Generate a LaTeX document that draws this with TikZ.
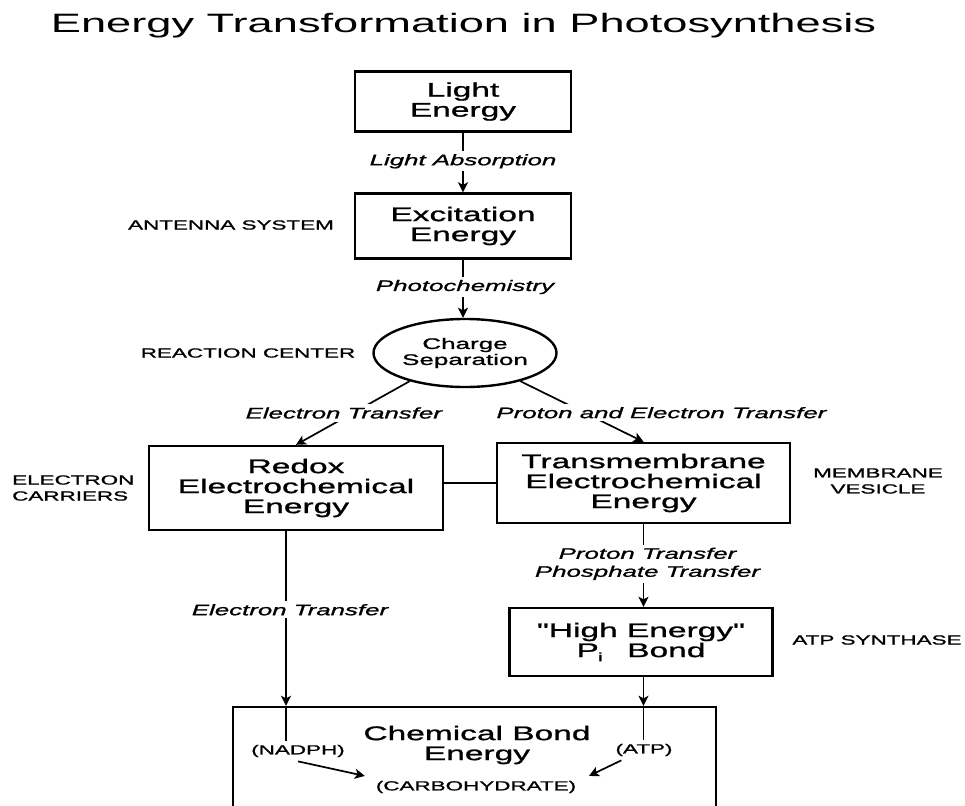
\documentclass[tikz,border=0pt]{standalone}
\usepackage{fontspec}
\usetikzlibrary{arrows.meta,shapes.geometric}
\newfontfamily\helv[FakeStretch=1.7]{Liberation Sans}
\newfontfamily\helvb[FakeStretch=1.7,FakeBold=1.2]{Liberation Sans}

\begin{document}
\begin{tikzpicture}[x=1pt,y=-1pt]

    \tikzset{
      box/.style={
        draw,
        line width=2.4pt,
        align=center,
        inner sep=0pt,
        font=\helvb\fontsize{19.7}{20}\selectfont,
      },
      oval/.style={
        draw,
        ellipse,
        line width=2.4pt,
        align=center,
        inner sep=0pt,
        minimum width=183pt,
        minimum height=68pt,
        font=\helvb\fontsize{15.3}{16}\selectfont,
      },
      lab/.style={
        fill=white,
        inner sep=3pt,
        align=center,
        font=\helvb\itshape\fontsize{15.2}{18}\selectfont,
      },
      side/.style={
        inner sep=3pt,
        font=\helvb\fontsize{13.2}{16}\selectfont,
      },
      conn/.style={line width=1.7pt},
      arr/.style={conn,-{Stealth[length=10pt,width=10pt,inset=2.5pt]}},
    }
    \useasboundingbox (0,0) rectangle (965,805);
    \clip (0,0) rectangle (965,805);
    	\draw [color={black}] (463.5,33) node[anchor = base, inner sep=0pt, font=\helv\fontsize{26.6}{30}\selectfont] (title) {Energy Transformation in Photosynthesis};

	\draw [color={black}] (463,101.5) node[box, minimum width=216pt, minimum height=60pt] (light) {Light\\Energy};
	\draw [color={black}] (463,226) node[box, minimum width=216pt, minimum height=65pt] (exc) {Excitation\\Energy};
	\draw [color={black}] (465,353) node[oval] (cs) {Charge\\Separation};
	\draw [color={black}] (296,488) node[box, minimum width=294pt, minimum height=84pt] (redox) {Redox\\Electrochemical\\Energy};
	\draw [color={black}] (643.5,483) node[box, minimum width=293pt, minimum height=80pt] (tm) {Transmembrane\\Electrochemical\\Energy};
	\draw [color={black}] (641,642) node[box, minimum width=263pt, minimum height=68pt] (high) {"High Energy"\\P\kern-0.04em\raisebox{-0.4ex}{\fontsize{12}{12}\selectfont i}\hspace{1.25em}Bond};
	\draw [color={black}] (474.5,771) node[box, minimum width=483pt, minimum height=128pt] (chembox) {};
	\draw [color={black}] (477,745) node[anchor = center, align=center, font=\helvb\fontsize{19.7}{20}\selectfont] (chem) {Chemical Bond\\Energy};

	\draw [color={black}] (231,225) node[side] (antenna) {ANTENNA SYSTEM};
	\draw [color={black}] (248,353) node[side] (rc) {REACTION CENTER};
	\draw [color={black}] (9,488) node[side, anchor = west, align=left] (carriers) {ELECTRON\\CARRIERS};
	\draw [color={black}] (878,481) node[side, align=center] (vesicle) {MEMBRANE\\VESICLE};
	\draw [color={black}] (877,640) node[side] (synthase) {ATP SYNTHASE};
	\draw [color={black}] (298,751) node[side, inner sep=4pt] (nadph) {(NADPH)};
	\draw [color={black}] (644,750) node[side, inner sep=4pt] (atp) {(ATP)};
	\draw [color={black}] (476,787) node[side] (carb) {(CARBOHYDRATE)};

	\draw[arr] (light.south) -- node[lab, pos=0.48] {Light Absorption} (exc.north);
	\draw[arr] (exc.south) -- node[lab, pos=0.47, xshift=2pt] {Photochemistry} (exc.south |- cs.north);
	\draw[arr] (cs.207) -- node[lab, pos=0.5, xshift=-9pt] {Electron Transfer} (redox.north);
	\draw[arr] (cs.-27) -- node[lab, pos=0.52, xshift=77pt] {Proton and Electron Transfer} (tm.north);
	\draw[conn] (redox.east |- tm.west) -- (tm.west);
	\draw[arr] (tm.south) -- node[lab, pos=0.48, xshift=4pt] {Proton Transfer\\Phosphate Transfer} (high.north -| tm.south);
	\draw[arr] ([xshift=-10pt]redox.south) -- node[lab, pos=0.45, xshift=4pt] {Electron Transfer} ([xshift=-10pt]redox.south |- chembox.north);
	\draw[conn] ([xshift=-10pt]redox.south |- chembox.north) -- ([xshift=-10pt]redox.south |- nadph.north);
	\draw[arr] (high.south -| tm.south) -- (chembox.north -| tm.south);
	\draw[conn] (chembox.north -| tm.south) -- (atp.north -| tm.south);
	\draw[arr, shorten >=8pt] (nadph.south) -- (carb.north west);
	\draw[arr, shorten >=4pt] ([xshift=10pt]atp.south west) -- ([xshift=6pt]carb.north east);

\end{tikzpicture}
\end{document}
